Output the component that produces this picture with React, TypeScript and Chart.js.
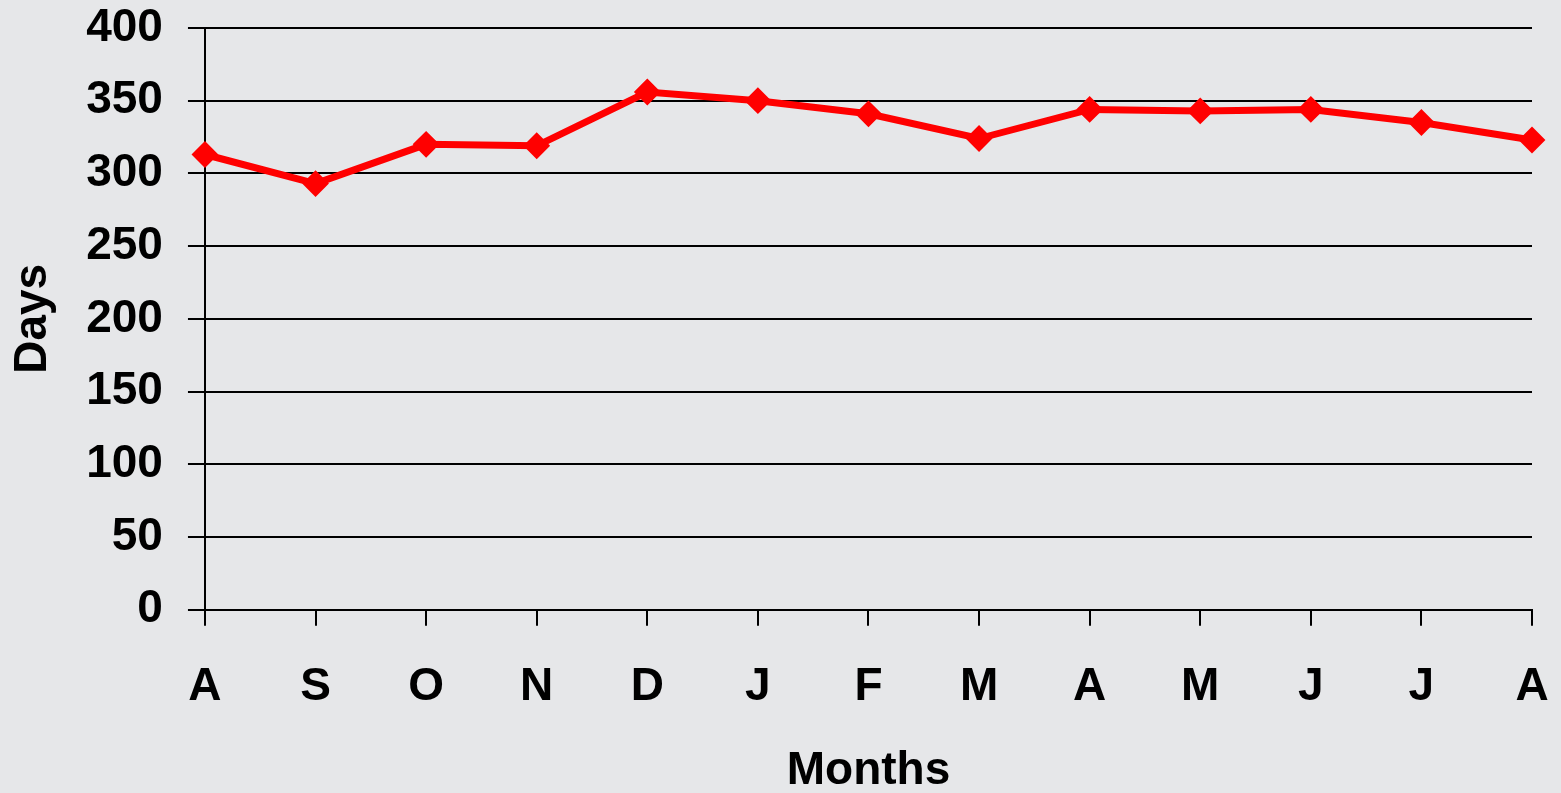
import React, { useEffect, useRef } from "react";
import { Chart, registerables } from "chart.js";

Chart.register(...registerables);

const months = ["A", "S", "O", "N", "D", "J", "F", "M", "A", "M", "J", "J", "A"];
const days = [313, 293, 320, 319, 356, 350, 341, 324, 344, 343, 344, 335, 323];
const yMin = 0;
const yMax = 400;
const yStep = 50;
const xTitle = "Months";
const yTitle = "Days";

const FONT = "'Liberation Sans', Arial, sans-serif";

const bgPlugin = {
  id: "bg",
  beforeDraw(chart: any) {
    const { ctx, width, height } = chart;
    ctx.save();
    ctx.fillStyle = "#e6e7e9";
    ctx.fillRect(0, 0, width, height);
    ctx.restore();
  },
};

export default function App() {
  const ref = useRef<HTMLCanvasElement | null>(null);
  useEffect(() => {
    if (!ref.current) return;
    const chart = new Chart(ref.current, {
      type: "line",
      data: {
        labels: months,
        datasets: [
          {
            data: days,
            borderColor: "#ff0000",
            backgroundColor: "#ff0000",
            borderWidth: 7,
            pointStyle: "rectRot",
            pointRadius: 12,
            pointBorderWidth: 2,
            pointBackgroundColor: "#ff0000",
            pointBorderColor: "#ff0000",
            tension: 0,
          },
        ],
      },
      options: {
        animation: false,
        responsive: true,
        maintainAspectRatio: false,
        layout: { padding: { left: 6, right: 0, top: 0, bottom: 0 } },
        plugins: {
          legend: { display: false },
          tooltip: { enabled: false },
        },
        scales: {
          x: {
            offset: false,
            afterFit(scale: any) {
              scale.paddingRight = 29;
            },
            grid: {
              drawOnChartArea: false,
              drawTicks: true,
              tickLength: 16,
              color: "#000",
              lineWidth: 2,
            },
            border: { display: true, color: "#000", width: 2 },
            ticks: {
              color: "#000",
              font: { family: FONT, size: 46, weight: "bold" },
              padding: 34,
              maxRotation: 0,
              autoSkip: false,
            },
            title: {
              display: true,
              text: xTitle,
              color: "#000",
              font: { family: FONT, size: 46, weight: "bold", lineHeight: 0.96 },
              padding: { top: 0, bottom: 0 },
            },
          },
          y: {
            min: yMin,
            max: yMax,
            afterFit(scale: any) {
              scale.paddingTop = 28;
            },
            grid: {
              color: "#000",
              lineWidth: 2,
              tickLength: 17,
            },
            border: { display: true, color: "#000", width: 2 },
            ticks: {
              stepSize: yStep,
              color: "#000",
              font: { family: FONT, size: 46, weight: "bold" },
              padding: 25,
            },
            title: {
              display: true,
              text: yTitle,
              color: "#000",
              font: { family: FONT, size: 46, weight: "bold" },
              padding: { top: 0, bottom: 0 },
            },
          },
        },
      },
      plugins: [bgPlugin],
    });
    return () => chart.destroy();
  }, []);
  return (
    <div style={{ position: "fixed", left: 0, top: 0, width: 1561, height: 793 }}>
      <canvas ref={ref} />
    </div>
  );
}
